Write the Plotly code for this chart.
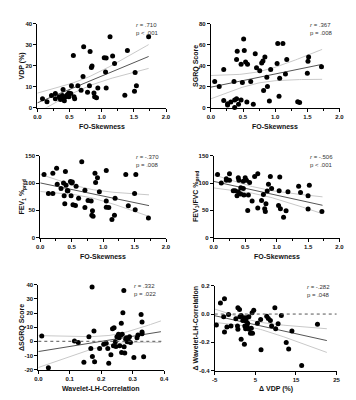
import numpy as np
import plotly.graph_objects as go

W, H = 356, 400

# ---------------- data ----------------
vdp_skew = [0.08, 0.15, 0.22, 0.28, 0.28, 0.34, 0.39, 0.40, 0.41, 0.42, 0.44, 0.46, 0.49, 0.49,
            0.52, 0.53, 0.57, 0.58, 0.56, 0.63, 0.68, 0.71, 0.72, 0.78, 0.81, 0.82, 0.84, 0.85,
            0.88, 0.89, 0.92, 0.94, 1.04, 1.07, 1.06, 1.07, 1.13, 1.17, 1.20, 1.36, 1.40, 1.51,
            1.52, 1.54, 1.73, 0.36, 0.47]
vdp = [4.2, 2.8, 5.8, 6.7, 4.2, 5.1, 5.8, 8.6, 4.2, 3.3, 5.1, 5.8, 5.1, 7.0,
       6.7, 10.4, 5.1, 4.2, 24.9, 10.4, 8.2, 14.8, 29.1, 7.3, 10.4, 26.8, 19.1, 19.8,
       7.0, 5.1, 4.7, 9.3, 23.8, 23.7, 17.0, 9.3, 33.8, 24.6, 21.0, 5.9, 27.2, 7.8,
       16.7, 10.4, 33.8, 3.8, 6.2]

sgrq_skew = [0.06, 0.13, 0.20, 0.20, 0.26, 0.26, 0.31, 0.36, 0.37, 0.37, 0.40, 0.40, 0.41, 0.43,
             0.47, 0.47, 0.49, 0.51, 0.52, 0.54, 0.56, 0.57, 0.62, 0.66, 0.69, 0.71, 0.76, 0.79,
             0.81, 0.82, 0.84, 0.87, 0.88, 0.91, 0.93, 1.03, 1.04, 1.06, 1.07, 1.12, 1.16, 1.18,
             1.35, 1.38, 1.50, 1.51, 1.52, 1.72]
sgrq = [24.9, 20.2, 36.4, 6.8, 3.7, 2.5, 5.3, 24.9, 7.2, 0.0, 8.4, 46.0, 53.9, 3.1,
        7.2, 41.4, 24.0, 65.4, 54.5, 43.6, 5.3, 41.4, 24.9, 3.1, 51.4, 38.0, 35.2, 42.6,
        44.5, 16.2, 48.2, 29.0, 20.2, 6.2, 36.4, 42.0, 61.3, 10.9, 28.0, 61.3, 32.1, 45.8,
        5.6, 4.7, 32.7, 44.2, 48.2, 38.9]

fev1_skew = [0.06, 0.13, 0.20, 0.20, 0.26, 0.27, 0.33, 0.37, 0.38, 0.39, 0.40, 0.41, 0.43, 0.44,
             0.48, 0.50, 0.51, 0.49, 0.52, 0.56, 0.57, 0.61, 0.66, 0.71, 0.71, 0.76, 0.81, 0.82,
             0.83, 0.84, 0.87, 0.88, 0.91, 0.94, 1.05, 1.05, 1.05, 1.09, 1.14, 1.18, 1.19, 1.36,
             1.40, 1.50, 1.52, 1.51, 1.72]
fev1 = [115.8, 81.0, 118.0, 81.0, 127.0, 97.8, 90.0, 100.0, 76.8, 61.8, 121.0, 96.0, 85.8, 85.8,
        103.0, 100.0, 102.0, 76.8, 60.0, 58.8, 94.2, 72.0, 139.0, 87.0, 55.2, 67.8, 67.2, 40.8,
        49.2, 39.0, 118.0, 100.8, 109.8, 84.0, 123.0, 67.2, 55.8, 55.2, 33.0, 40.8, 72.0, 115.8,
        58.2, 81.0, 115.8, 51.0, 36.0]

ratio_skew = [0.06, 0.12, 0.20, 0.20, 0.25, 0.25, 0.31, 0.34, 0.37, 0.39, 0.39, 0.40, 0.43, 0.43,
              0.47, 0.47, 0.48, 0.50, 0.52, 0.55, 0.54, 0.57, 0.61, 0.65, 0.70, 0.70, 0.76, 0.79,
              0.81, 0.82, 0.83, 0.85, 0.87, 0.90, 0.92, 1.03, 1.04, 1.05, 1.06, 1.11, 1.15, 1.18,
              1.35, 1.38, 1.50, 1.52, 1.50, 1.72]
ratio = [115.8, 100.2, 105.0, 108.0, 117.0, 105.0, 85.8, 85.8, 76.8, 84.0, 109.8, 105.0, 91.2, 79.8,
         103.2, 90.0, 78.0, 109.8, 105.0, 78.0, 49.8, 100.8, 67.2, 112.0, 117.0, 54.0, 67.8, 79.2,
         52.8, 48.0, 61.8, 85.2, 97.8, 112.0, 90.0, 58.8, 85.8, 111.0, 52.8, 37.2, 49.2, 84.0,
         94.2, 82.8, 76.8, 96.0, 52.2, 48.0]

wlh_corr = [0.011, 0.032, 0.115, 0.127, 0.145, 0.161, 0.167, 0.172, 0.177, 0.179, 0.171, 0.195,
            0.208, 0.216, 0.221, 0.224, 0.231, 0.236, 0.241, 0.239, 0.245, 0.247, 0.250, 0.255,
            0.257, 0.259, 0.262, 0.264, 0.265, 0.267, 0.269, 0.272, 0.273, 0.275, 0.278, 0.280,
            0.283, 0.286, 0.290, 0.293, 0.304, 0.314, 0.317, 0.327, 0.330, 0.330, 0.330, 0.335]
d_sgrq = [3.8, -18.8, 0.3, -0.9, -14.9, 3.3, -5.1, -10.7, 7.3, -14.4, 38.4, -5.1,
          -2.0, -1.3, -5.1, -15.6, -9.5, 8.9, 9.6, -3.2, -0.4, -3.7, 3.3, 5.0,
          2.6, -3.2, 4.5, 12.7, -7.9, 5.0, 20.2, 36.0, -3.9, -8.3, 1.5, 2.6,
          -0.4, 1.0, 3.3, -0.9, -11.4, 2.6, 4.5, 19.0, 13.6, 6.6, 5.4, -10.9]

d_vdp = [-4.6, -3.6, -2.6, -2.8, -2.6, -2.0, -1.6, -1.0, 0.2, 0.7, 0.6, 0.7, 1.1, 1.2, 1.5, 1.5,
         1.9, 2.2, 2.3, 2.4, 2.6, 2.7, 2.8, 3.0, 3.1, 3.4, 3.5, 3.8, 4.0, 4.2, 4.3, 4.6,
         5.5, 6.3, 6.4, 7.8, 8.2, 8.7, 9.0, 9.8, 10.0, 10.6, 11.4, 12.6, 13.2, 14.0, 16.4, 20.3]
d_wlh = [-0.078, 0.079, 0.109, -0.019, -0.127, -0.092, -0.003, -0.085, -0.034, 0.044, -0.085, -0.108,
         0.032, -0.019, -0.010, -0.178, -0.045, -0.026, -0.213, -0.085, -0.104, -0.050, -0.026, -0.090,
         -0.066, -0.019, -0.108, -0.136, -0.101, 0.009, -0.136, 0.027, -0.066, -0.038, -0.253, -0.015,
         -0.031, -0.045, -0.085, 0.044, -0.104, -0.069, -0.010, -0.202, -0.248, -0.120, -0.365, -0.073]

x_titles = ["FO-Skewness", "FO-Skewness", "FO-Skewness", "FO-Skewness",
            "Wavelet-LH-Correlation", "Δ VDP (%)"]
y_titles = ["VDP (%)", "SGRQ Score", "FEV<sub>1</sub> %<sub>pred</sub>",
            "FEV<sub>1</sub>/FVC %<sub>pred</sub>", "ΔSGRQ Score", "Δ Wavelet-LH-Correlation"]
r_labels = ["<i>r</i> = .710", "<i>r</i> = .367", "<i>r</i> = -.370",
            "<i>r</i> = -.506", "<i>r</i> = .332", "<i>r</i> = -.282"]
p_labels = ["p < .001", "p = .008", "p = .008", "p < .001", "p = .022", "p = .048"]

x_ranges = [[0, 2], [0, 2], [0, 2], [0, 2], [0, 0.4], [-5, 25]]
y_ranges = [[0, 40], [0, 80], [0, 150], [0, 150], [-20, 40], [-0.4, 0.2]]
x_tickvals = [[0, 0.5, 1, 1.5, 2]] * 4 + [[0, 0.1, 0.2, 0.3, 0.4], [-5, 5, 15, 25]]
x_ticktext = [["0.0", "0.5", "1.0", "1.5", "2.0"]] * 4 + [["0.0", "0.1", "0.2", "0.3", "0.4"],
                                                           ["-5", "5", "15", "25"]]
y_tickvals = [[0, 10, 20, 30, 40], [0, 20, 40, 60, 80], [0, 50, 100, 150], [0, 50, 100, 150],
              [-20, -10, 0, 10, 20, 30, 40], [-0.4, -0.2, 0, 0.2]]
y_ticktext = [["0", "10", "20", "30", "40"], ["0", "20", "40", "60", "80"],
              ["0", "50", "100", "150"], ["0", "50", "100", "150"],
              ["-20", "-10", "0", "10", "20", "30", "40"], ["-0.4", "-0.2", "0.0", "0.2"]]
fit_ranges = [[0, 1.73], [0, 1.73], [0, 1.73], [0, 1.73], [0, 0.39], [-5, 22.6]]
zero_line = [False, False, False, False, True, True]

xs_all = [vdp_skew, sgrq_skew, fev1_skew, ratio_skew, wlh_corr, d_vdp]
ys_all = [vdp, sgrq, fev1, ratio, d_sgrq, d_wlh]

# ---------------- layout geometry (pixels) ----------------
px_x = [(26, 158), (204, 336), (29, 158), (207, 336), (27, 156), (208, 333)]
px_y = [(13, 98), (13, 98), (147, 230), (147, 230), (278, 364), (279, 365)]
ytitle_x = [10, 188, 10, 188, 10, 188]

FONT = "Liberation Sans, Arial, sans-serif"
T95 = 2.013

fig = go.Figure()
annotations = []
shapes = []

for i in range(6):
    k = "" if i == 0 else str(i + 1)
    xa, ya = "x" + k, "y" + k
    x = np.array(xs_all[i], float)
    y = np.array(ys_all[i], float)
    n = len(x)
    b, a = np.polyfit(x, y, 1)
    resid = y - (a + b * x)
    s = np.sqrt(np.sum(resid ** 2) / (n - 2))
    xbar = x.mean()
    sxx = np.sum((x - xbar) ** 2)
    xg = np.linspace(fit_ranges[i][0], fit_ranges[i][1], 60)
    yg = a + b * xg
    se = s * np.sqrt(1.0 / n + (xg - xbar) ** 2 / sxx)

    for yy in (yg + T95 * se, yg - T95 * se):
        fig.add_trace(go.Scatter(x=xg, y=yy, mode="lines", xaxis=xa, yaxis=ya,
                                 line=dict(color="#c9c9c9", width=1), hoverinfo="skip",
                                 showlegend=False))
    fig.add_trace(go.Scatter(x=xg, y=yg, mode="lines", xaxis=xa, yaxis=ya,
                             line=dict(color="#555555", width=1), showlegend=False))
    fig.add_trace(go.Scatter(x=x, y=y, mode="markers", xaxis=xa, yaxis=ya,
                             marker=dict(color="black", size=5, line=dict(width=0)),
                             showlegend=False, cliponaxis=False))

    xd = [px_x[i][0] / W, px_x[i][1] / W]
    yd = [1 - px_y[i][1] / H, 1 - px_y[i][0] / H]
    axis_common = dict(showgrid=False, zeroline=False, showline=True, linecolor="black",
                       linewidth=1, ticks="outside", ticklen=3, tickwidth=1, tickcolor="black",
                       tickfont=dict(family=FONT, size=6, color="#111111", weight="bold"))
    xaxis = dict(axis_common, domain=xd, anchor=ya, range=x_ranges[i],
                 tickmode="array", tickvals=x_tickvals[i], ticktext=x_ticktext[i])
    if i < 4:
        xaxis["minor"] = dict(ticks="outside", ticklen=2, tickcolor="black", dtick=0.25,
                              tick0=0, showgrid=False)
    yaxis = dict(axis_common, domain=yd, anchor=xa, range=y_ranges[i],
                 tickmode="array", tickvals=y_tickvals[i], ticktext=y_ticktext[i])
    fig.layout["xaxis" + k] = xaxis
    fig.layout["yaxis" + k] = yaxis

    cx = (px_x[i][0] + px_x[i][1]) / 2
    annotations.append(dict(text=x_titles[i], xref="paper", yref="paper",
                            x=cx / W, y=1 - (px_y[i][1] + 19) / H,
                            showarrow=False, xanchor="center", yanchor="middle",
                            font=dict(family=FONT, size=7, color="#111111", weight="bold")))
    annotations.append(dict(text=y_titles[i], xref="paper", yref="paper",
                            x=ytitle_x[i] / W, y=1 - ((px_y[i][0] + px_y[i][1]) / 2) / H,
                            showarrow=False, textangle=-90, xanchor="center", yanchor="middle",
                            font=dict(family=FONT, size=7, color="#111111", weight="bold")))
    annotations.append(dict(text=r_labels[i] + "<br>" + p_labels[i], xref="paper", yref="paper",
                            x=(px_x[i][1] - 5) / W, y=1 - (px_y[i][0] - 4) / H,
                            showarrow=False, xanchor="right", yanchor="top", align="left",
                            font=dict(family=FONT, size=6, color="#333333")))
    if zero_line[i]:
        shapes.append(dict(type="line", xref=xa + " domain", yref=ya, x0=0, x1=1, y0=0, y1=0,
                           line=dict(color="#555555", width=1, dash="dot")))

fig.update_layout(width=W, height=H, margin=dict(l=0, r=0, t=0, b=0),
                  paper_bgcolor="white", plot_bgcolor="white",
                  annotations=annotations, shapes=shapes, showlegend=False)
fig.write_html("out.html")
